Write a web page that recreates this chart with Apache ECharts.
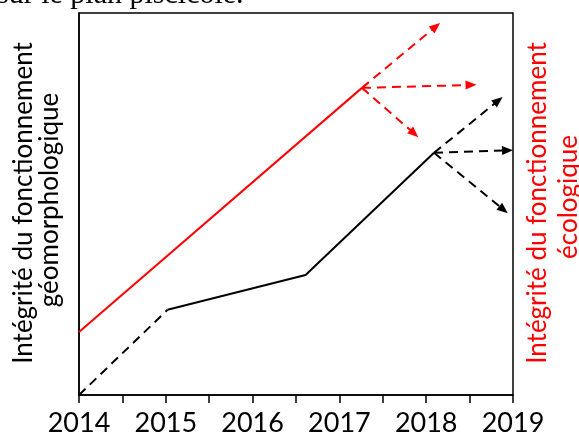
<!DOCTYPE html>
<html>
<head>
<meta charset="utf-8">
<script src="https://cdn.jsdelivr.net/npm/echarts@6/dist/echarts.min.js"></script>
<style>html,body{margin:0;padding:0;background:#fff;}#c{width:579px;height:434px;}</style>
</head>
<body>
<div id="c"></div>
<script>
// Data (years on x, relative integrity 0-100 on y)
const xTickLabels = [2014, 2015, 2016, 2017, 2018, 2019];
const redSolid = [[2014, 16.5], [2017.26, 80.4]];
const redOrigin = [2017.26, 80.4];
const redArrowEnds = [[2018.16, 97.4], [2018.58, 81.2], [2017.91, 67.5]];
const blackDashed = [[2014, 0], [2015.02, 22.3]];
const blackSolid = [[2015.02, 22.3], [2016.61, 31.4], [2018.09, 63.4]];
const blackOrigin = [2018.09, 63.4];
const blackArrowEnds = [[2018.88, 78], [2019, 64.1], [2018.94, 47.6]];

const leftTitle = ['Intégrité du fonctionnement', 'géomorphologique'];
const rightTitle = ['Intégrité du fonctionnement', 'écologique'];
const topText = 'sur le plan piscicole.';

const chart = echarts.init(document.getElementById('c'), null, {renderer: 'canvas'});
const dash = [9, 6];
const FONT = 'Lato';

function arrows(origin, ends, color) {
  return {
    type: 'custom', z: 3, clip: false,
    encode: {x: [0, 2], y: [1, 3]},
    data: ends.map(e => [origin[0], origin[1], e[0], e[1]]),
    renderItem: function (params, api) {
      const p0 = api.coord([api.value(0), api.value(1)]);
      const p1 = api.coord([api.value(2), api.value(3)]);
      const dx = p1[0] - p0[0], dy = p1[1] - p0[1];
      const len = Math.sqrt(dx * dx + dy * dy);
      const ux = dx / len, uy = dy / len;
      const L = 11, W = 4.5;
      const bx = p1[0] - ux * L, by = p1[1] - uy * L;
      return {
        type: 'group',
        children: [
          {type: 'line', shape: {x1: p0[0], y1: p0[1], x2: bx + ux * 2, y2: by + uy * 2},
           style: {stroke: color, lineWidth: 2, lineDash: dash, fill: null}},
          {type: 'polygon', shape: {points: [[p1[0], p1[1]], [bx - uy * W, by + ux * W], [bx + uy * W, by - ux * W]]},
           style: {fill: color, stroke: null}}
        ]
      };
    }
  };
}

chart.setOption({
  animation: false,
  grid: {left: 79, right: 66, top: 13, bottom: 39, show: true, borderColor: '#000', borderWidth: 1.5, backgroundColor: 'transparent', outerBoundsMode: 'none', containLabel: false},
  xAxis: {
    type: 'value', min: 2014, max: 2019, interval: 0.5,
    axisLine: {show: true, lineStyle: {color: '#000', width: 1.5}},
    axisTick: {show: true, length: 8, lineStyle: {color: '#000', width: 1.5}},
    splitLine: {show: false},
    axisLabel: {
      margin: 15, color: '#000', fontFamily: FONT, fontSize: 27,
      formatter: v => (xTickLabels.indexOf(v) >= 0 ? String(v) : '')
    }
  },
  yAxis: {
    type: 'value', min: 0, max: 100,
    axisLine: {show: true, lineStyle: {color: '#000', width: 1.5}},
    axisTick: {show: false}, axisLabel: {show: false}, splitLine: {show: false}
  },
  graphic: [
    {type: 'text', left: -3, top: -20, style: {text: topText, font: '30px "Liberation Serif"', fill: '#000'}},
    {type: 'text', x: 24, y: 203, rotation: Math.PI / 2, style: {text: leftTitle[0], font: '26px ' + FONT, fill: '#000', align: 'center', verticalAlign: 'middle'}},
    {type: 'text', x: 50, y: 200, rotation: Math.PI / 2, style: {text: leftTitle[1], font: '26px ' + FONT, fill: '#000', align: 'center', verticalAlign: 'middle'}},
    {type: 'text', x: 538, y: 203, rotation: Math.PI / 2, style: {text: rightTitle[0], font: '26px ' + FONT, fill: '#ff0000', align: 'center', verticalAlign: 'middle'}},
    {type: 'text', x: 569, y: 197, rotation: Math.PI / 2, style: {text: rightTitle[1], font: '26px ' + FONT, fill: '#ff0000', align: 'center', verticalAlign: 'middle'}}
  ],
  series: [
    {type: 'line', data: redSolid, symbol: 'none', lineStyle: {color: '#ff0000', width: 2}, z: 2},
    {type: 'line', data: blackDashed, symbol: 'none', lineStyle: {color: '#000', width: 2, type: dash}, z: 2},
    {type: 'line', data: blackSolid, symbol: 'none', lineStyle: {color: '#000', width: 2}, z: 2},
    arrows(redOrigin, redArrowEnds, '#ff0000'),
    arrows(blackOrigin, blackArrowEnds, '#000')
  ]
});
</script>
</body>
</html>
